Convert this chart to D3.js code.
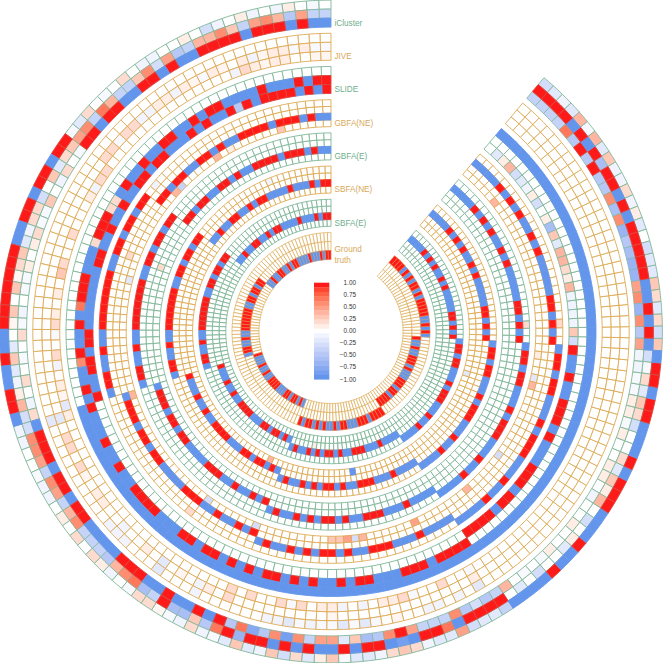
<!DOCTYPE html>
<html><head><meta charset="utf-8">
<script src="https://cdn.jsdelivr.net/npm/d3@7"></script>
<style>html,body{margin:0;padding:0;background:#fff}svg{display:block}text{font-family:"Liberation Sans",Arial,sans-serif}</style>
</head><body><svg id="c" width="663" height="663"></svg>
<script>
// Code per cell: 0 zero, + .05, - -.05, 1..9 tenths, R 1, a..i negative tenths, B -1.
// Columns run from the 12 o'clock label anticlockwise; rows listed inner to outer.
const iClusterRows = [
 "BBRBR RRBRR RRBBR BRRBB RRBRR | -02a0 3--21 01--0 a-20- 020a2 | BRRRB RRBRR BBBBR RRBBR BBRBR | e7he6 i6d55 b3fe6 R5ddd 6eced | 40-0- 10010 0a011 001-1 1--aa | 5e6g6 5ggfe g6f6e eReRe 7dddd",
 "dd5e4 65d36 44de5 c63dd 47d65 | 32b30 c22ab 32+30 3+0b3 ba14c | c665d 65d46 ddde4 67fdR ff3e7 | RgRRB RBRBB RBRRB iBRR7 BRRRR | 0b0c0 0b10c 0413b 200c2 3b2-c | BRBRB BRRRR RBRBR RfRBR BRRRR",
 "0-01a 0a10a c0100 aa020 -02b- | RRBRR BRRBB RRRRR RRBBR BBRRB | aa00- aa010 2021a 0-22+ -a2a- | b3ba3 c2b13 -bba2 32abb 5cbbd | BBBBR BBRBB BRRRB RBBBR RBRRB | 3c2b2 3bbc0 b1a2a a3b4- 4babc"
];
const jiveRows = [
 "++001 1+12a 00000 00000 00000 | 22a10 00200 23010 12-02 a01+b | 10000 00000 00000 00000 00002 | 02002 -2011 a0a01 12-00 200-0 | 00000 00000 00000 00000 00000 | 00000 00000 00000 00000 00000",
 "--1-1 1+a10 +1-+1 a11aa 22-22 | 00000 00000 00000 00000 00000 | b0220 2+011 00a00 10b0+ 0a102 | 00000 0000+ 00000 00000 00010 | 00000 00000 00000 00000 00000 | 00000 00000 00000 00000 00000",
 "00000 00000 00000 00000 00000 | 00000 00000 00000 00000 00000 | b0000 00000 0aaa0 00b00 0a000 | 000aa b-a-- b-b-0 +00aa 0a0b0 | 00000 00000 00000 00000 00000 | 00000 00000 00000 00000 00000"
];
const slideRows = [
 "RBRBR RRRBR eRBBR BRBBB RRBRR | BBRBB RBBRR BBBBB BBRRB RRBBR | 00000 00000 00000 00000 00000 | 00000 00000 00000 00000 00000 | RRRRB RRBRR RBBBR BRRRB BRBBR | c3aaa a4124 4b3f1 0c1ab c41b0",
 "RRBRB BBRBB BBRRB RBBRR BBRBB | RB22R RR2BB BRRR7 BRBBR 6BBRB | RBBBR BBRBB RRRRB BBRRB RRBRB | RBRRB RBRBB RBRRB BBRRR BRRRR | 00000 00000 00000 00000 00000 | 00000 00000 00000 00000 00000",
 "00000 00000 00000 00000 00000 | 00000 00000 00000 00000 00000 | BBBBB BBBBB BBBBB BBBBB BBBBB | BBBBB BBBBB BBBBB BBBBB BBBBB | BBBBB BBBBB BBBBB BBBBB BBBBB | BBBBB BBBBB BBBBB BBBBB BBBBB"
];
const gbfaNeRows = [
 "00000 03000 00010 40000 0d400 | 00000 00000 b0000 00000 00000 | 40000 00000 00000 00c00 0000c | 00000 00003 35c40 00000 50000 | 00040 0000c 00000 00004 b0010 | 00000 00000 00000 00004 00000",
 "BBRBR RRBRR RRBBR BRRBB RRBRR | 00000 00200 00000 00000 00000 | BRRRB RRBRR BBBBR RRBBR BBRBR | 00000 00000 00000 00000 00000 | 00000 00000 00000 00000 00000 | 00000 00000 00000 00000 00000",
 "00000 00000 00000 00000 00000 | 00000 00000 00000 00000 00000 | 00000 00000 00000 00000 00000 | BRBBR BRBRR BRBBR RRBBB RBBBB | 00000 00000 00000 00000 00000 | RBRBR RBBBB BRBRB BRBRB RBBBB",
 "00000 00000 00000 00000 000a0 | RRBRR BRRBB RRRRR RRBBR BBRRB | 00000 00000 00000 02000 00000 | 00000 00000 00000 00000 00000 | BBBBR BBRBB BRRRB RBBBR RBRRB | 00200 00000 00000 00000 00000"
];
const gbfaERows = [
 "00000 00000 00000 00000 00000 | 00000 00000 00000 00000 00000 | 00000 00000 00000 00000 00000 | 00000 00000 00000 00000 00000 | 00000 00000 00000 00000 00000 | 00000 00000 00000 00000 00000",
 "BBRBR RRBRR RRBBR BRRBB RRBRR | 00000 00200 00000 00000 00000 | BRRRB RRBRR BBBBR RRBBR BBRBR | 00000 00000 00000 00000 00000 | 00000 00000 00000 00000 00000 | 00000 00000 00000 00000 00000",
 "00000 00000 00000 00000 00000 | 00000 00000 00000 00000 00000 | 00000 00000 00000 00000 00000 | BRBBR BRBRR BRBBR RRBBB RBBBB | 00000 00000 00000 00000 00000 | RBRBR RBBBB BRBRB BRBRB RBBBB",
 "00000 00000 00000 00000 00000 | RRBRR BRRBB RRRRR RRBBR BBRRB | 00000 00000 00000 00000 00000 | 00000 00000 00000 00000 00000 | BBBBR BBRBB BRRRB RBBBR RBRRB | 00200 00000 00000 00000 00000"
];
const sbfaNeRows = [
 "00000 00000 00000 00000 00000 | 00000 00000 00000 00000 00000 | 00000 00000 00000 00000 00400 | 00000 00000 000B0 00000 00000 | 00000 00000 00000 000b0 00000 | 00000 00000 00000 00000 00000",
 "RRBRB BBRBB BBRRB RBBRR BBRBB | 00000 00000 00000 00000 00000 | RBBBR BBRBB RRRRB BBRRB RRBRB | 00000 00000 00000 00000 00000 | 00000 00000 00000 00000 00000 | 00000 00000 00000 00000 00000",
 "00000 00000 00000 00000 00000 | 00000 00000 00000 00000 00000 | 00000 00000 00000 00000 00000 | BRBBR BRBRR BRBBR RRBBB RBBBB | 00000 00000 00000 00000 00000 | RBRBR RBBBB BRBRB BRBRB RBBBB",
 "00000 00000 a0000 00000 00000 | RRBRR BRRBB RRRRR RRBBR BBRRB | 00000 00000 00000 00000 00000 | 00000 00000 00000 00000 00000 | BBBBR BBRBB BRRRB RBBBR RBRRB | 00000 00000 00000 00000 00000"
];
const sbfaERows = [
 "00000 00000 00000 00000 00000 | 00000 00000 00000 00000 00000 | 00000 00000 00000 00000 00000 | 00000 00000 00000 00000 00000 | 00000 00000 00000 00000 00000 | 00000 00000 00000 00000 00000",
 "RRBRB BBRBB BBRRB RBBRR BBRBB | 00000 00000 00000 00000 00000 | RBBBR BBRBB RRRRB BBRRB RRBRB | 00000 10000 00000 00000 00000 | 00000 00000 00000 00000 00000 | 00000 00000 00000 00000 00000",
 "00000 00000 00000 00000 00000 | 00000 00000 00000 00000 00000 | 00000 00000 00000 00000 00000 | BRBBR BRBRR BRBBR RRBBB RBBBB | 00000 00000 00000 00000 00000 | RBRBR RBBBB BRBRB BRBRB RBBBB",
 "00000 00000 00000 00000 00000 | RRBRR BRRBB RRRRR RRBBR BBRRB | 00000 00000 00000 00000 00000 | 00000 00000 00000 00000 00000 | BBBBR BBRBB BRRRB RBBBR RBRRB | 00000 00000 00000 00000 00000"
];
const truthRows = [
 "RRBRB BBRBB BBRRB RBBRR BBRBB | 00000 00000 00000 00000 00000 | RBBBR BBRBB RRRRB BBRRB RRBRB | 00000 00000 00000 00000 00000 | 00000 00000 00000 00000 00000 | 00000 00000 00000 00000 00000",
 "00000 00000 00000 00000 00000 | RRBRR BRRBB RRRRR RRBBR BBRRB | 00000 00000 00000 00000 00000 | 00000 00000 00000 00000 00000 | RRRRB RRBRR RBBBR BRRRB BRBBR | 00000 00000 00000 00000 00000",
 "00000 00000 00000 00000 00000 | 00000 00000 00000 00000 00000 | 00000 00000 00000 00000 00000 | RBRRB RBRBB RBRRB BBRRR BRRRR | 00000 00000 00000 00000 00000 | BRBRB BRRRR RBRBR RBRBR BRRRR"
];
const trackNames = ["Ground truth","SBFA(E)","SBFA(NE)","GBFA(E)","GBFA(NE)","SLIDE","JIVE","iCluster"];
const trackRows = [truthRows,sbfaERows,sbfaNeRows,gbfaERows,gbfaNeRows,slideRows,jiveRows,iClusterRows];
const legendTicks = [1,0.75,0.5,0.25,0,-0.25,-0.5,-0.75,-1];

const codeValue = {"0":0,"+":.05,"-":-.05,"R":1,"B":-1};
"123456789".split("").forEach((c,i)=>codeValue[c]=(i+1)/10);
"abcdefghi".split("").forEach((c,i)=>codeValue[c]=-(i+1)/10);
const decode = s => s.replace(/[ |]/g,"").split("").map(c=>codeValue[c]);

const green="#7fb697", orange="#dcaa55";
const trackColor = i => i%2===0 ? orange : green;
const labelColor = i => i%2===0 ? "#d9a95a" : "#6fae8c";
const cx=331, cy=331.5;
const svg=d3.select("#c");
const g=svg.append("g").attr("transform",`translate(${cx},${cy})`);

const color=d3.scaleLinear().domain([-1,0,1]).range(["#6495ed","#ffffff","#ff1a1a"]).interpolate(d3.interpolateLab);
const nCols=150;
const colScale=d3.scaleBand().domain(d3.range(nCols)).range([2*Math.PI,40*Math.PI/180]);
const radial=d3.scaleLinear().domain([0,7]).range([72,304.4]);
const trackH=27;
const arc=d3.arc();

trackRows.forEach((rows,t)=>{
  const r0=radial(t);
  const rowScale=d3.scaleBand().domain(d3.range(rows.length)).range([r0,r0+trackH]);
  const cells=[];
  rows.forEach((s,r)=>{
    const vals=decode(s);
    if(vals.length!==nCols) throw new Error(trackNames[t]+" row "+r+" has "+vals.length);
    vals.forEach((v,k)=>cells.push({k,r,v}));
  });
  cells.sort((a,b)=>Math.abs(a.v)-Math.abs(b.v));
  const edge=trackColor(t);
  const reach=v=>(v<0?(t===0?0.5:0.95):(t===0?0.35:0.72))*v*v;
  g.append("g").selectAll("path").data(cells).join("path")
    .attr("d",d=>{
      const a=colScale(d.k), b=a+colScale.bandwidth();
      const s=Math.min(a,b), e=Math.max(a,b);
      return arc({innerRadius:rowScale(d.r),outerRadius:rowScale(d.r)+rowScale.bandwidth(),startAngle:s,endAngle:e});
    })
    .attr("fill",d=>color(d.v))
    .attr("stroke",d=>d3.interpolateRgb(edge,color(d.v))(reach(d.v)))
    .attr("stroke-width",t===0?0.7:0.9);
});

// labels
const labelY=[[249.3,260],[222.7],[189.3],[156],[123.3],[89],[55.7],[22.7]];
const labelLines=[["Ground","truth"],["SBFA(E)"],["SBFA(NE)"],["GBFA(E)"],["GBFA(NE)"],["SLIDE"],["JIVE"],["iCluster"]];
labelLines.forEach((ls,i)=>ls.forEach((l,j)=>{
  svg.append("text").attr("x",334.5).attr("y",labelY[i][j]).attr("dy","0.35em")
    .attr("font-size",8.2).attr("fill",labelColor(i)).text(l);
}));

// legend
const legY=d3.scaleLinear().domain([1,-1]).range([282.7,379.3]);
const legendSteps=d3.range(21).map(i=>1-i*0.1);
const stepH=(legY(-1)-legY(1))/21;
svg.append("g").selectAll("rect").data(legendSteps).join("rect")
  .attr("x",314).attr("width",15.3)
  .attr("y",(d,i)=>legY(1)+i*stepH).attr("height",stepH+0.3)
  .attr("fill",d=>color(d));
svg.append("g").selectAll("text").data(legendTicks).join("text")
  .attr("x",356).attr("y",d=>legY(d)).attr("dy","0.35em").attr("text-anchor","end")
  .attr("font-size",6.4).attr("fill","#333").text(d=>d3.format(".2f")(d));
</script></body></html>
